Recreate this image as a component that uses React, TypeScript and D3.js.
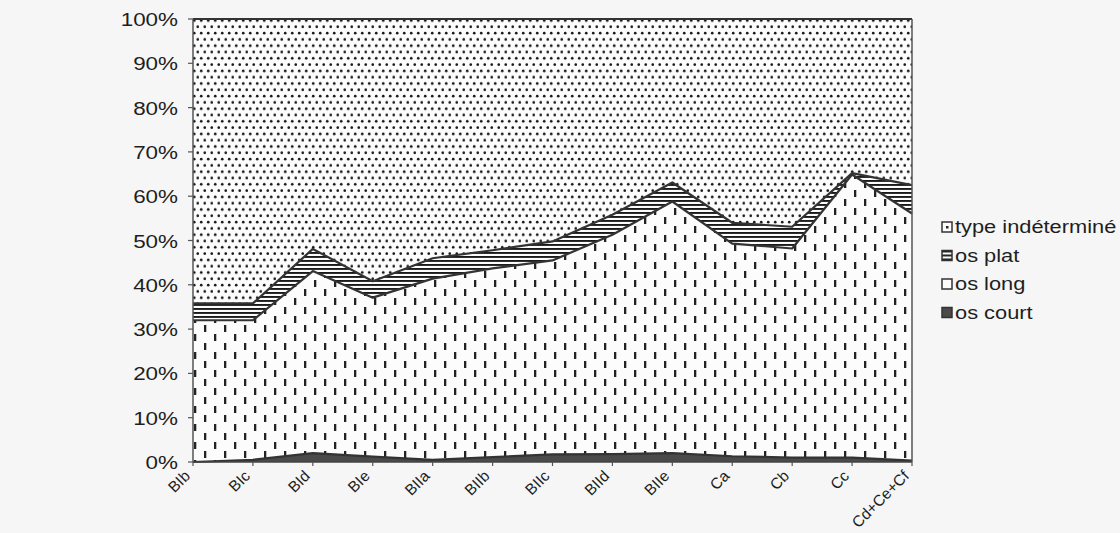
import { useEffect, useRef } from "react";
import * as d3 from "d3";

// categories along the x axis
const categories = ["BIb", "BIc", "BId", "BIe", "BIIa", "BIIb", "BIIc", "BIId", "BIIe", "Ca", "Cb", "Cc", "Cd+Ce+Cf"];

// series values (%), bottom to top
const osCourt = [0, 0.5, 2, 1.2, 0.5, 1.1, 1.7, 1.8, 2, 1.3, 1, 1, 0.3];
const osLong = [32, 31.5, 41.1, 35.9, 40.9, 42.6, 43.8, 49.5, 56.8, 48, 47.2, 63.9, 55.8];
const osPlat = [3.8, 3.8, 5, 3.7, 4.6, 4.1, 4.3, 4.5, 4.3, 4.7, 4.9, 0.3, 6.4];
const typeIndetermine = [64.2, 64.2, 51.9, 59.2, 54, 52.2, 50.2, 44.2, 36.9, 46, 46.9, 34.8, 37.5];

const yTicks = [0, 0.1, 0.2, 0.3, 0.4, 0.5, 0.6, 0.7, 0.8, 0.9, 1];

const seriesKeys = ["court", "long", "plat", "indet"];
const legendItems = [
  { key: "indet", label: "type indéterminé" },
  { key: "plat", label: "os plat" },
  { key: "long", label: "os long" },
  { key: "court", label: "os court" },
];

export default function App() {
  const svgRef = useRef<SVGSVGElement>(null);

  useEffect(() => {
    if (!svgRef.current) return;
    const svg = d3.select(svgRef.current);
    svg.selectAll("*").remove();

    const width = 1120;
    const height = 533;
    const left = 193;
    const right = 912;
    const top = 19;
    const bottom = 462;
    const font = "'Liberation Sans', Arial, sans-serif";
    const ink = "#1e1e1e";
    const stretch = 1.18; // the scan is a bit wider than tall

    svg.attr("width", width).attr("height", height);
    svg.append("rect").attr("width", width).attr("height", height).attr("fill", "#f6f6f6");

    // patterns
    const defs = svg.append("defs");
    const dots = defs
      .append("pattern")
      .attr("id", "dots")
      .attr("patternUnits", "userSpaceOnUse")
      .attr("width", 7)
      .attr("height", 12.6);
    dots.append("rect").attr("width", 7).attr("height", 12.6).attr("fill", "#fcfcfc");
    dots.append("circle").attr("cx", 1.75).attr("cy", 1.6).attr("r", 1.35).attr("fill", "#151515");
    dots.append("circle").attr("cx", 5.25).attr("cy", 7.9).attr("r", 1.35).attr("fill", "#151515");

    const dashes = defs
      .append("pattern")
      .attr("id", "dashes")
      .attr("patternUnits", "userSpaceOnUse")
      .attr("width", 20)
      .attr("height", 18);
    dashes.append("rect").attr("width", 20).attr("height", 18).attr("fill", "#fcfcfc");
    dashes.append("rect").attr("x", 4).attr("y", 1).attr("width", 2.3).attr("height", 7).attr("fill", "#222");
    dashes.append("rect").attr("x", 14).attr("y", 10).attr("width", 2.3).attr("height", 7).attr("fill", "#222");

    const hlines = defs
      .append("pattern")
      .attr("id", "hlines")
      .attr("patternUnits", "userSpaceOnUse")
      .attr("width", 8)
      .attr("height", 4);
    hlines.append("rect").attr("width", 8).attr("height", 4).attr("fill", "#fcfcfc");
    hlines.append("rect").attr("width", 8).attr("height", 1.9).attr("fill", "#1a1a1a");

    const fills: Record<string, string> = {
      court: "#4a4a4a",
      long: "url(#dashes)",
      plat: "url(#hlines)",
      indet: "url(#dots)",
    };

    const rows = categories.map((cat, i) => ({
      cat,
      court: osCourt[i],
      long: osLong[i],
      plat: osPlat[i],
      indet: typeIndetermine[i],
    }));

    const x = d3.scalePoint<string>().domain(categories).range([left, right]);
    const y = d3.scaleLinear().domain([0, 1]).range([bottom, top]);

    const stacked = d3
      .stack<any>()
      .keys(seriesKeys)
      .offset(d3.stackOffsetExpand)(rows);

    const area = d3
      .area<any>()
      .x((d) => x(d.data.cat)!)
      .y0((d) => y(d[0]))
      .y1((d) => y(d[1]));

    const line = d3
      .line<any>()
      .x((d) => x(d.data.cat)!)
      .y((d) => y(d[1]));

    svg
      .append("g")
      .selectAll("path")
      .data(stacked)
      .enter()
      .append("path")
      .attr("d", area)
      .attr("fill", (s) => fills[s.key]);

    // boundary lines between layers
    svg
      .append("g")
      .selectAll("path")
      .data(stacked)
      .enter()
      .append("path")
      .attr("d", line)
      .attr("fill", "none")
      .attr("stroke", "#333")
      .attr("stroke-width", 2.2)
      .attr("stroke-linejoin", "round");

    // frame
    svg
      .append("line")
      .attr("x1", right)
      .attr("x2", right)
      .attr("y1", top)
      .attr("y2", bottom)
      .attr("stroke", "#555")
      .attr("stroke-width", 1.5);
    svg
      .append("line")
      .attr("x1", left)
      .attr("x2", left)
      .attr("y1", top)
      .attr("y2", bottom)
      .attr("stroke", "#555")
      .attr("stroke-width", 1.5);
    svg
      .append("line")
      .attr("x1", left)
      .attr("x2", right)
      .attr("y1", bottom)
      .attr("y2", bottom)
      .attr("stroke", "#444")
      .attr("stroke-width", 1.5);

    // y axis
    const yAxis = svg.append("g");
    yTicks.forEach((t) => {
      yAxis
        .append("line")
        .attr("x1", left - 5)
        .attr("x2", left)
        .attr("y1", y(t))
        .attr("y2", y(t))
        .attr("stroke", "#555")
        .attr("stroke-width", 1.2);
      yAxis
        .append("text")
        .attr("transform", `translate(${left - 15},${y(t) + 7}) scale(${stretch},1)`)
        .attr("text-anchor", "end")
        .attr("font-family", font)
        .attr("font-size", 19)
        .attr("fill", ink)
        .text(`${Math.round(t * 100)}%`);
    });

    // x axis
    const xAxis = svg.append("g");
    categories.forEach((c) => {
      xAxis
        .append("line")
        .attr("x1", x(c)!)
        .attr("x2", x(c)!)
        .attr("y1", bottom)
        .attr("y2", bottom + 4)
        .attr("stroke", "#555")
        .attr("stroke-width", 1.2);
      xAxis
        .append("text")
        .attr("transform", `translate(${x(c)! - 2},${bottom + 15}) rotate(-45)`)
        .attr("text-anchor", "end")
        .attr("font-family", font)
        .attr("font-size", 15.5)
        .attr("fill", ink)
        .text(c);
    });

    // legend
    const legend = svg.append("g").attr("transform", "translate(942, 222)");
    legendItems.forEach((item, i) => {
      const g = legend.append("g").attr("transform", `translate(0, ${i * 28.5})`);
      g.append("rect")
        .attr("width", 10)
        .attr("height", 10)
        .attr("fill", item.key === "court" ? "#4a4a4a" : item.key === "plat" ? "url(#hlines)" : "#fcfcfc")
        .attr("stroke", "#333")
        .attr("stroke-width", 1.5);
      if (item.key === "indet") {
        g.append("rect").attr("x", 4).attr("y", 4).attr("width", 2.5).attr("height", 2.5).attr("fill", "#222");
      }
      g.append("text")
        .attr("transform", `translate(13, 11) scale(${stretch},1)`)
        .attr("font-family", font)
        .attr("font-size", 18.5)
        .attr("fill", ink)
        .text(item.label);
    });
  }, []);

  return <svg ref={svgRef} style={{ position: "absolute", left: 0, top: 0 }} />;
}
